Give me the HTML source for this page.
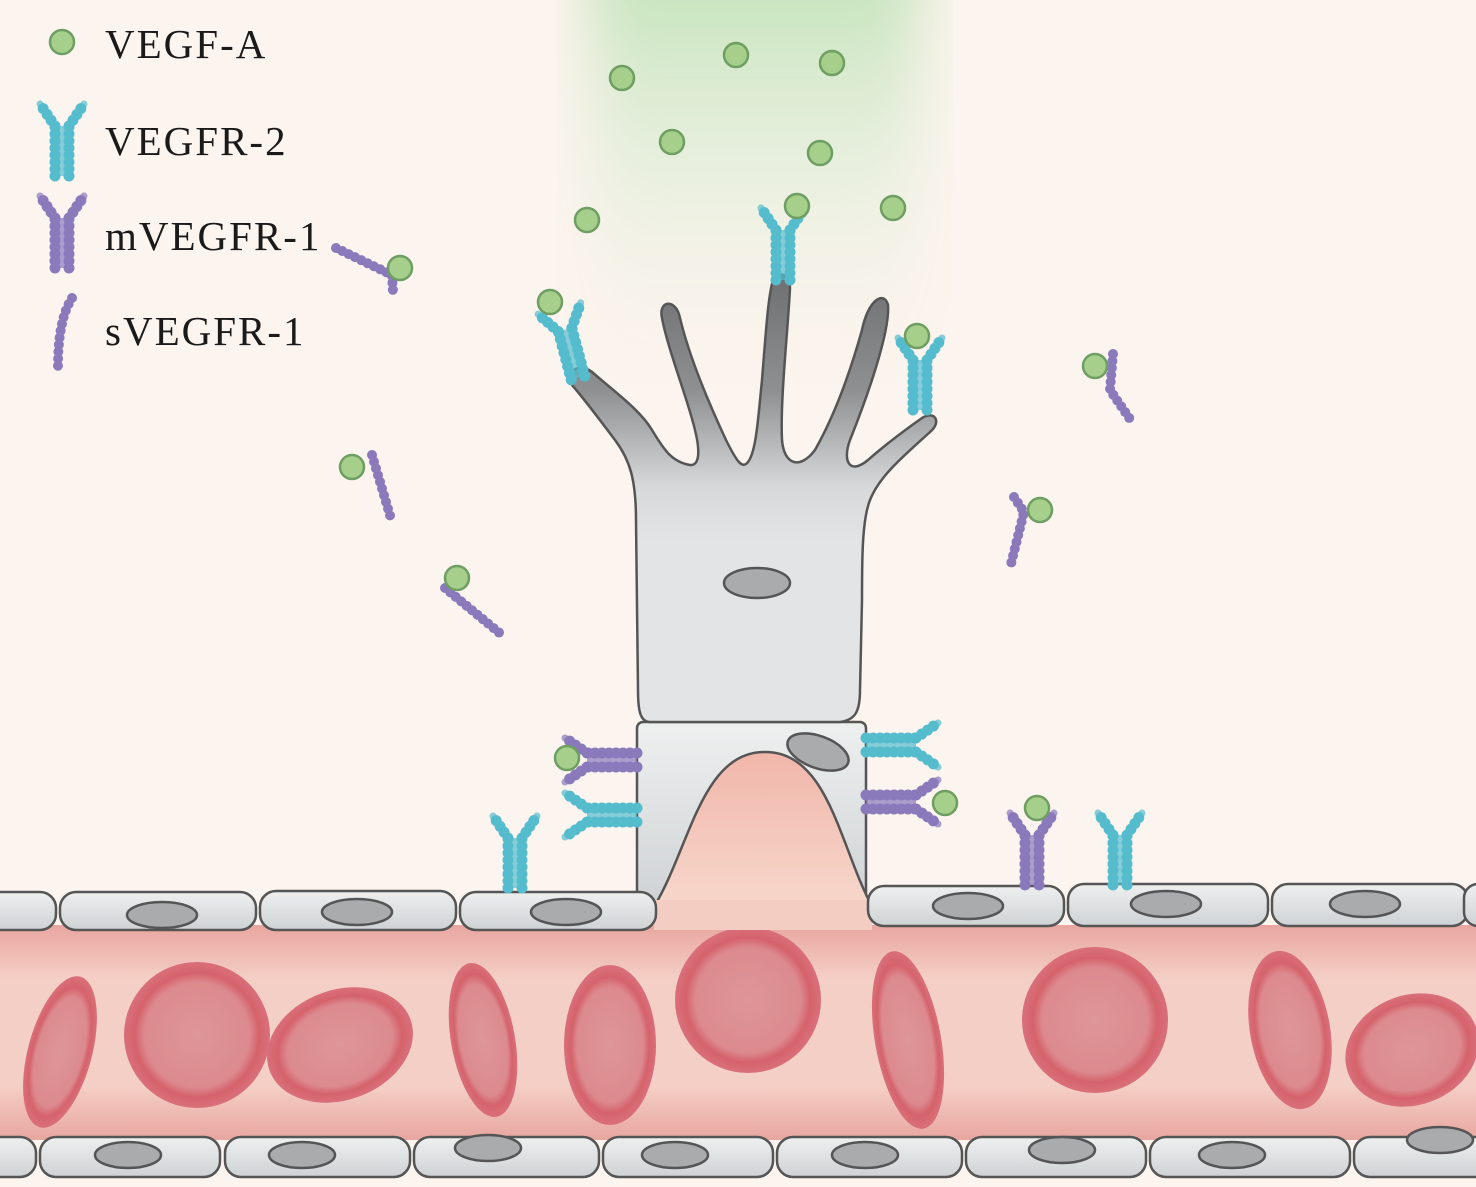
<!DOCTYPE html>
<html><head><meta charset="utf-8"><style>
html,body{margin:0;padding:0;background:#fcf4ee;}
svg{display:block}
text{font-family:"Liberation Serif",serif;font-size:41px;fill:#1a1a1a;letter-spacing:2px}
</style></head><body>
<svg width="1476" height="1187" viewBox="0 0 1476 1187" xmlns="http://www.w3.org/2000/svg">
<defs>
<linearGradient id="gcol" x1="0" y1="0" x2="0" y2="1">
<stop offset="0" stop-color="#b5deac" stop-opacity="0.9"/>
<stop offset="0.5" stop-color="#d8ecd2" stop-opacity="0.5"/>
<stop offset="1" stop-color="#fcf4ee" stop-opacity="0"/>
</linearGradient>
<filter id="blur"><feGaussianBlur stdDeviation="30"/></filter>
<linearGradient id="lumen" x1="0" y1="0" x2="0" y2="1">
<stop offset="0" stop-color="#e8a6a0"/>
<stop offset="0.25" stop-color="#f4cfc5"/>
<stop offset="0.75" stop-color="#f4cfc5"/>
<stop offset="1" stop-color="#e8a6a0"/>
</linearGradient>
<linearGradient id="dome" x1="0" y1="0" x2="0" y2="1">
<stop offset="0" stop-color="#f1b6aa"/>
<stop offset="1" stop-color="#f7d8cc"/>
</linearGradient>
<linearGradient id="tip" x1="0" y1="270" x2="0" y2="540" gradientUnits="userSpaceOnUse">
<stop offset="0" stop-color="#6c6e70"/>
<stop offset="0.45" stop-color="#8e9092"/>
<stop offset="0.8" stop-color="#d6d8d9"/>
<stop offset="1" stop-color="#e2e4e5"/>
</linearGradient>
<linearGradient id="cellg" x1="0" y1="0" x2="0" y2="1">
<stop offset="0" stop-color="#eef0f0"/>
<stop offset="1" stop-color="#cfd2d4"/>
</linearGradient>
<radialGradient id="rbc" cx="0.5" cy="0.5" r="0.5">
<stop offset="0" stop-color="#de9698"/>
<stop offset="0.72" stop-color="#dc8a8e"/>
<stop offset="0.85" stop-color="#d5626c"/>
<stop offset="1" stop-color="#d9707a"/>
</radialGradient>
<g id="y2">
<path d="M-7 0 L-7 -50 M7 0 L7 -50 M-7 -50 L-22 -72 M7 -50 L22 -72" stroke="#55bccd" stroke-width="11" stroke-linecap="round" stroke-dasharray="0 7" fill="none"/>
<path d="M-7 0 L-7 -50 M7 0 L7 -50 M-7 -50 L-22 -72 M7 -50 L22 -72" stroke="#55bccd" stroke-width="7" stroke-linecap="round" fill="none" opacity="0.7"/>
<rect x="-7" y="-50" width="14" height="50" fill="#55bccd" opacity="0.7"/>
</g>
<g id="y1">
<path d="M-7 0 L-7 -50 M7 0 L7 -50 M-7 -50 L-22 -72 M7 -50 L22 -72" stroke="#8a79bb" stroke-width="11" stroke-linecap="round" stroke-dasharray="0 7" fill="none"/>
<path d="M-7 0 L-7 -50 M7 0 L7 -50 M-7 -50 L-22 -72 M7 -50 L22 -72" stroke="#8a79bb" stroke-width="7" stroke-linecap="round" fill="none" opacity="0.7"/>
<rect x="-7" y="-50" width="14" height="50" fill="#8a79bb" opacity="0.7"/>
</g>
<circle id="vg" r="12" fill="#a6cf8c" stroke="#6e9e62" stroke-width="2.5"/>
</defs>

<rect width="1476" height="1187" fill="#fcf4ee"/>
<rect x="590" y="-60" width="330" height="480" fill="url(#gcol)" filter="url(#blur)"/>

<!-- legend -->
<use href="#vg" x="62" y="42"/>
<text x="105" y="58">VEGF-A</text>
<use href="#y2" transform="translate(62,176)"/>
<text x="105" y="155">VEGFR-2</text>
<use href="#y1" transform="translate(62,268)"/>
<text x="105" y="250">mVEGFR-1</text>
<path d="M72 298 Q58 320 58 366" stroke="#8a79bb" stroke-width="10" stroke-linecap="round" stroke-dasharray="0 7" fill="none"/>
<text x="105" y="345">sVEGFR-1</text>

<!-- free VEGF -->
<use href="#vg" x="622" y="78"/><use href="#vg" x="736" y="55"/><use href="#vg" x="832" y="63"/>
<use href="#vg" x="672" y="142"/><use href="#vg" x="820" y="153"/><use href="#vg" x="587" y="220"/><use href="#vg" x="893" y="208"/>

<!-- sVEGFR-1 complexes -->
<g stroke="#8a79bb" stroke-width="10" stroke-linecap="round" stroke-dasharray="0 7" fill="none">
<path d="M336 248 L392 275 L393 292"/>
<path d="M372 455 L392 522"/>
<path d="M445 588 L502 635"/>
<path d="M1113 354 L1110 390 L1132 422"/>
<path d="M1014 497 L1024 512 L1010 568"/>
</g>
<use href="#vg" x="400" y="268"/><use href="#vg" x="352" y="467"/><use href="#vg" x="457" y="578"/>
<use href="#vg" x="1095" y="366"/><use href="#vg" x="1040" y="510"/>

<!-- vessel lumen -->
<rect x="0" y="925" width="1476" height="215" fill="url(#lumen)"/>

<!-- RBCs -->
<g fill="url(#rbc)">
<ellipse cx="60" cy="1052" rx="32" ry="78" transform="rotate(15 60 1052)"/>
<circle cx="197" cy="1035" r="73"/>
<ellipse cx="340" cy="1045" rx="75" ry="55" transform="rotate(-20 340 1045)"/>
<ellipse cx="483" cy="1040" rx="32" ry="78" transform="rotate(-10 483 1040)"/>
<ellipse cx="610" cy="1045" rx="46" ry="80"/>
<circle cx="748" cy="1000" r="73"/>
<ellipse cx="908" cy="1040" rx="33" ry="90" transform="rotate(-10 908 1040)"/>
<circle cx="1095" cy="1020" r="73"/>
<ellipse cx="1290" cy="1030" rx="40" ry="80" transform="rotate(-10 1290 1030)"/>
<ellipse cx="1412" cy="1050" rx="68" ry="55" transform="rotate(-20 1412 1050)"/>
</g>

<!-- stalk cell -->
<rect x="637" y="722" width="229" height="185" rx="6" fill="url(#cellg)" stroke="#555" stroke-width="2.5"/>
<path d="M652 910 C690 850 700 752 765 752 C830 752 840 850 874 910 Z" fill="url(#dome)" stroke="#555" stroke-width="2.5"/>
<rect x="654" y="900" width="218" height="30" fill="#f3cdc2"/>
<ellipse cx="818" cy="752" rx="32" ry="16" transform="rotate(20 818 752)" fill="#a9abad" stroke="#555" stroke-width="2.5"/>

<!-- tip cell -->
<path d="M650 722 C640 722 638 710 638 690 L636 520 C636 480 630 460 615 440 C600 420 585 400 572 385 C562 372 580 362 592 372 C615 392 640 410 652 430 C664 450 672 462 690 465 C700 466 700 450 695 430 C688 400 668 350 662 318 C658 300 676 298 680 318 C690 360 712 410 726 440 C736 460 742 470 748 462 C756 452 758 420 762 380 C766 330 768 300 772 284 C776 270 790 272 790 288 C788 330 780 400 782 440 C784 465 800 470 815 450 C832 420 848 380 862 330 C868 300 884 290 888 305 C890 330 870 390 850 440 C842 462 850 475 868 460 C885 445 905 430 922 418 C935 410 942 422 930 432 C905 455 880 475 870 500 C862 520 862 560 862 600 L860 690 C860 712 855 720 840 722 Z" fill="url(#tip)" stroke="#555" stroke-width="2.5"/>
<ellipse cx="757" cy="583" rx="33" ry="15" fill="#a9abad" stroke="#555" stroke-width="2.5"/>

<!-- endothelial top cells -->
<g fill="url(#cellg)" stroke="#555" stroke-width="2.5">
<rect x="-20" y="892" width="76" height="38" rx="16"/>
<rect x="60" y="892" width="196" height="38" rx="16"/>
<rect x="260" y="891" width="196" height="39" rx="16"/>
<rect x="460" y="892" width="196" height="38" rx="16"/>
<rect x="868" y="886" width="196" height="40" rx="16"/>
<rect x="1068" y="884" width="200" height="42" rx="16"/>
<rect x="1272" y="884" width="196" height="42" rx="16"/>
<rect x="1464" y="884" width="40" height="42" rx="14"/>
</g>
<g fill="#a9abad" stroke="#555" stroke-width="2.5">
<ellipse cx="162" cy="915" rx="35" ry="13"/><ellipse cx="357" cy="912" rx="35" ry="13"/>
<ellipse cx="566" cy="912" rx="35" ry="13"/><ellipse cx="968" cy="906" rx="35" ry="13"/>
<ellipse cx="1166" cy="904" rx="35" ry="13"/><ellipse cx="1365" cy="904" rx="35" ry="13"/>
</g>

<!-- bottom cells -->
<g fill="url(#cellg)" stroke="#555" stroke-width="2.5">
<rect x="-20" y="1137" width="56" height="40" rx="16"/>
<rect x="40" y="1137" width="180" height="40" rx="16"/>
<rect x="225" y="1137" width="185" height="40" rx="16"/>
<rect x="414" y="1137" width="185" height="40" rx="16"/>
<rect x="603" y="1137" width="170" height="40" rx="16"/>
<rect x="777" y="1137" width="185" height="40" rx="16"/>
<rect x="966" y="1137" width="180" height="40" rx="16"/>
<rect x="1150" y="1137" width="200" height="40" rx="16"/>
<rect x="1354" y="1137" width="140" height="40" rx="16"/>
</g>
<g fill="#a9abad" stroke="#555" stroke-width="2.5">
<ellipse cx="128" cy="1155" rx="33" ry="13"/><ellipse cx="302" cy="1155" rx="33" ry="13"/>
<ellipse cx="488" cy="1148" rx="33" ry="13"/><ellipse cx="675" cy="1155" rx="33" ry="13"/>
<ellipse cx="865" cy="1155" rx="33" ry="13"/><ellipse cx="1062" cy="1150" rx="33" ry="13"/>
<ellipse cx="1232" cy="1155" rx="33" ry="13"/><ellipse cx="1440" cy="1140" rx="33" ry="13"/>
</g>

<!-- membrane receptors -->
<use href="#y2" transform="translate(515,888)"/>
<use href="#y2" transform="translate(1120,885)"/>
<use href="#y1" transform="translate(1032,885)"/>
<use href="#vg" x="1037" y="808"/>
<use href="#y1" transform="translate(637,760) rotate(-90)"/>
<use href="#vg" x="567" y="758"/>
<use href="#y2" transform="translate(637,815) rotate(-90)"/>
<use href="#y2" transform="translate(866,745) rotate(90)"/>
<use href="#y1" transform="translate(866,802) rotate(90)"/>
<use href="#vg" x="945" y="803"/>
<use href="#y2" transform="translate(578,378) rotate(-15)"/>
<use href="#vg" x="550" y="302"/>
<use href="#y2" transform="translate(783,280)"/>
<use href="#vg" x="797" y="206"/>
<use href="#y2" transform="translate(920,410)"/>
<use href="#vg" x="917" y="336"/>
</svg>
</body></html>
